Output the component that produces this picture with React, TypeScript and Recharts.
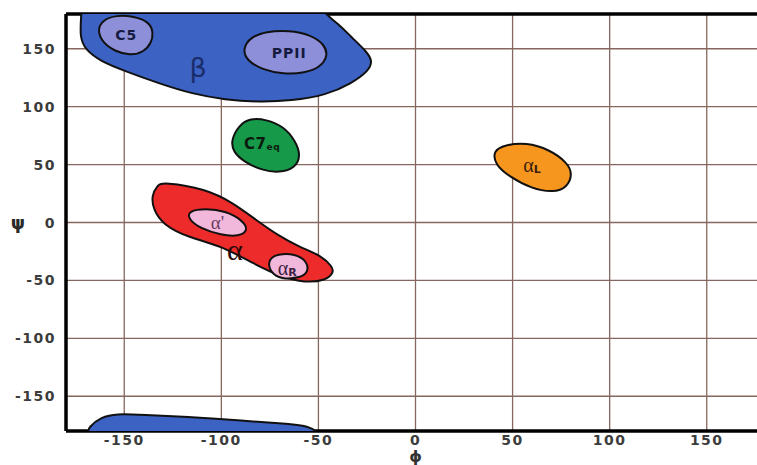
import React from 'react';
import { ScatterChart, Scatter, XAxis, YAxis, CartesianGrid, ReferenceLine } from 'recharts';

type Pt = [number, number];

// axis ticks (degrees)
const phiTicks = [-150, -100, -50, 0, 50, 100, 150];
const psiTicks = [-150, -100, -50, 0, 50, 100, 150];

// region outlines, [phi, psi]
const betaOutline: Pt[] = [
  [-172, 190], [-172, 181], [-173, 160], [-170, 149], [-162, 139], [-150, 131],
  [-132, 120], [-115, 111], [-98, 106], [-81, 104], [-64, 105], [-46, 110],
  [-33, 120], [-24, 131], [-22, 140], [-26, 149], [-33, 160], [-40, 172],
  [-46, 179], [-50, 190], [-110, 192],
];
const betaBottomOutline: Pt[] = [
  [-171, -186], [-168, -176], [-162, -168], [-154, -165], [-141, -166],
  [-115, -168], [-90, -171], [-64, -174], [-55, -176], [-50, -181],
  [-48, -188], [-110, -190],
];
const c5Outline: Pt[] = [
  [-164, 166], [-161, 175], [-154, 179], [-145, 178], [-137, 173], [-135, 164],
  [-136, 155], [-140, 147], [-147, 144], [-155, 148], [-161, 155],
];
const ppiiOutline: Pt[] = [
  [-89, 150], [-85, 160], [-77, 165], [-65, 166], [-54, 162], [-47, 154],
  [-45, 144], [-49, 134], [-57, 129], [-68, 128], [-79, 132], [-87, 140],
];
const c7eqOutline: Pt[] = [
  [-95, 71], [-91, 84], [-85, 90], [-77, 89], [-68, 83], [-62, 71],
  [-59, 58], [-62, 47], [-70, 43], [-79, 45], [-88, 52], [-94, 61],
];
const alphaOutline: Pt[] = [
  [-130, 35], [-108, 29], [-94, 17], [-82, 2], [-70, -12], [-60, -21],
  [-48, -29], [-43, -38], [-42, -43], [-46, -50], [-57, -52], [-69, -47],
  [-83, -36], [-100, -20], [-117, -13], [-130, -2], [-135, 11], [-136, 23],
  [-133, 32],
];
const alphaPrimeOutline: Pt[] = [
  [-117, 10], [-108, 12], [-98, 10], [-89, 2], [-86, -7], [-91, -12],
  [-100, -11], [-111, -5], [-117, 3],
];
const alphaROutline: Pt[] = [
  [-76, -32], [-71, -27], [-62, -27], [-56, -33], [-55, -43], [-60, -48],
  [-69, -49], [-75, -43],
];
const alphaLOutline: Pt[] = [
  [40, 62], [46, 67], [57, 69], [69, 63], [78, 52], [81, 42], [78, 30],
  [71, 26], [60, 29], [48, 40], [41, 50],
];

// region labels
const labelPoints = [
  { id: 'beta', phi: -112, psi: 134, text: 'β', sub: '' },
  { id: 'c5', phi: -149, psi: 162, text: 'C5', sub: '' },
  { id: 'ppii', phi: -65, psi: 146, text: 'PPII', sub: '' },
  { id: 'c7eq', phi: -79, psi: 68, text: 'C7', sub: 'eq' },
  { id: 'alphaPrime', phi: -102, psi: 0, text: "α'", sub: '' },
  { id: 'alpha', phi: -93, psi: -23, text: 'α', sub: '' },
  { id: 'alphaR', phi: -66, psi: -39, text: 'α', sub: 'R' },
  { id: 'alphaL', phi: 60, psi: 50, text: 'α', sub: 'L' },
];

const regions = [
  { key: 'beta', outline: betaOutline, fill: '#3c62c4' },
  { key: 'betaBottom', outline: betaBottomOutline, fill: '#3c62c4' },
  { key: 'c5', outline: c5Outline, fill: '#8d8fd8' },
  { key: 'ppii', outline: ppiiOutline, fill: '#8d8fd8' },
  { key: 'c7eq', outline: c7eqOutline, fill: '#169a4a' },
  { key: 'alpha', outline: alphaOutline, fill: '#ee2b2b' },
  { key: 'alphaPrime', outline: alphaPrimeOutline, fill: '#f2b8dc' },
  { key: 'alphaR', outline: alphaROutline, fill: '#f2b8dc' },
  { key: 'alphaL', outline: alphaLOutline, fill: '#f7961e' },
];

const labelStyles: Record<string, any> = {
  beta: { family: 'DejaVu Sans', size: 27, weight: 'normal', color: '#1a2d6a', spacing: 0 },
  c5: { family: 'DejaVu Sans', size: 14, weight: 'bold', color: '#151a40', spacing: 1 },
  ppii: { family: 'DejaVu Sans', size: 14, weight: 'bold', color: '#151a40', spacing: 1 },
  c7eq: { family: 'DejaVu Sans', size: 15, weight: 'bold', color: '#0c1a0e', spacing: 0.5, subSize: 9, subDy: 3 },
  alphaPrime: { family: 'Liberation Serif', size: 19, weight: 'normal', color: '#6a3c5c', spacing: 0 },
  alpha: { family: 'Liberation Serif', size: 30, weight: 'normal', color: '#2a0808', spacing: 0 },
  alphaR: { family: 'Liberation Serif', size: 20, weight: 'normal', color: '#3a2040', spacing: 0, subSize: 11, subDy: 4 },
  alphaL: { family: 'Liberation Serif', size: 20, weight: 'normal', color: '#3a200c', spacing: 0, subSize: 11, subDy: 4 },
};

const toPoints = (o: Pt[]) => o.map(([phi, psi]) => ({ phi, psi }));
const noDot = () => <g />;

const LabelShape = (props: any) => {
  const { cx, cy, payload } = props;
  const s = labelStyles[payload.id];
  return (
    <text
      x={cx}
      y={cy}
      textAnchor="middle"
      dominantBaseline="central"
      fontFamily={s.family}
      fontSize={s.size}
      fontWeight={s.weight}
      fill={s.color}
      letterSpacing={s.spacing}
    >
      {payload.text}
      {payload.sub ? (
        <tspan fontSize={s.subSize} dy={s.subDy} fontFamily="DejaVu Sans" fontWeight="bold">
          {payload.sub}
        </tspan>
      ) : null}
    </text>
  );
};

const tickFont = {
  fontFamily: 'DejaVu Sans',
  fontSize: 14,
  fontWeight: 'bold',
  fill: '#3c3c3c',
  letterSpacing: 1.5,
};

const PsiTick = (props: any) => {
  const { x, y, payload } = props;
  return (
    <g>
      <text x={x} y={y} dy={5} textAnchor="end" {...tickFont}>
        {payload.value}
      </text>
      {payload.value === 0 ? (
        <text x={18} y={y} dy={6} textAnchor="middle" fontFamily="DejaVu Sans" fontSize={18} fontWeight="bold" fill="#2a2a2a">
          ψ
        </text>
      ) : null}
    </g>
  );
};

const App: React.FC = () => {
  return (
    <div style={{ position: 'absolute', left: 0, top: 0, width: 757, height: 465, overflow: 'hidden', background: '#fff' }}>
      <ScatterChart width={800} height={465} margin={{ top: 14, right: 35, bottom: 4, left: 0 }}>
        <CartesianGrid stroke="#86675f" strokeWidth={1.3} />
        <XAxis
          type="number"
          dataKey="phi"
          domain={[-180, 180]}
          ticks={phiTicks}
          interval={0}
          allowDataOverflow
          height={30}
          tickSize={0}
          tickMargin={4}
          tickLine={false}
          axisLine={{ stroke: '#000', strokeWidth: 3.5 }}
          tick={tickFont}
          label={{
            value: 'ϕ',
            position: 'insideBottom',
            offset: -1,
            style: { fontFamily: 'DejaVu Sans', fontSize: 16, fontWeight: 'bold', fill: '#333' },
          }}
        />
        <YAxis
          type="number"
          dataKey="psi"
          domain={[-180, 180]}
          ticks={psiTicks}
          interval={0}
          allowDataOverflow
          width={66}
          tickSize={0}
          tickMargin={10}
          tickLine={false}
          axisLine={{ stroke: '#000', strokeWidth: 3.5 }}
          tick={<PsiTick />}
        />
        {regions.map((r) => (
          <Scatter
            key={r.key}
            data={toPoints(r.outline)}
            shape={noDot}
            line={{ fill: r.fill, stroke: '#111', strokeWidth: 2 }}
            lineType="joint"
            lineJointType="basisClosed"
            isAnimationActive={false}
          />
        ))}
        <Scatter data={labelPoints} shape={<LabelShape />} isAnimationActive={false} />
        <ReferenceLine y={180} stroke="#000" strokeWidth={3.5} />
      </ScatterChart>
    </div>
  );
};

export default App;
